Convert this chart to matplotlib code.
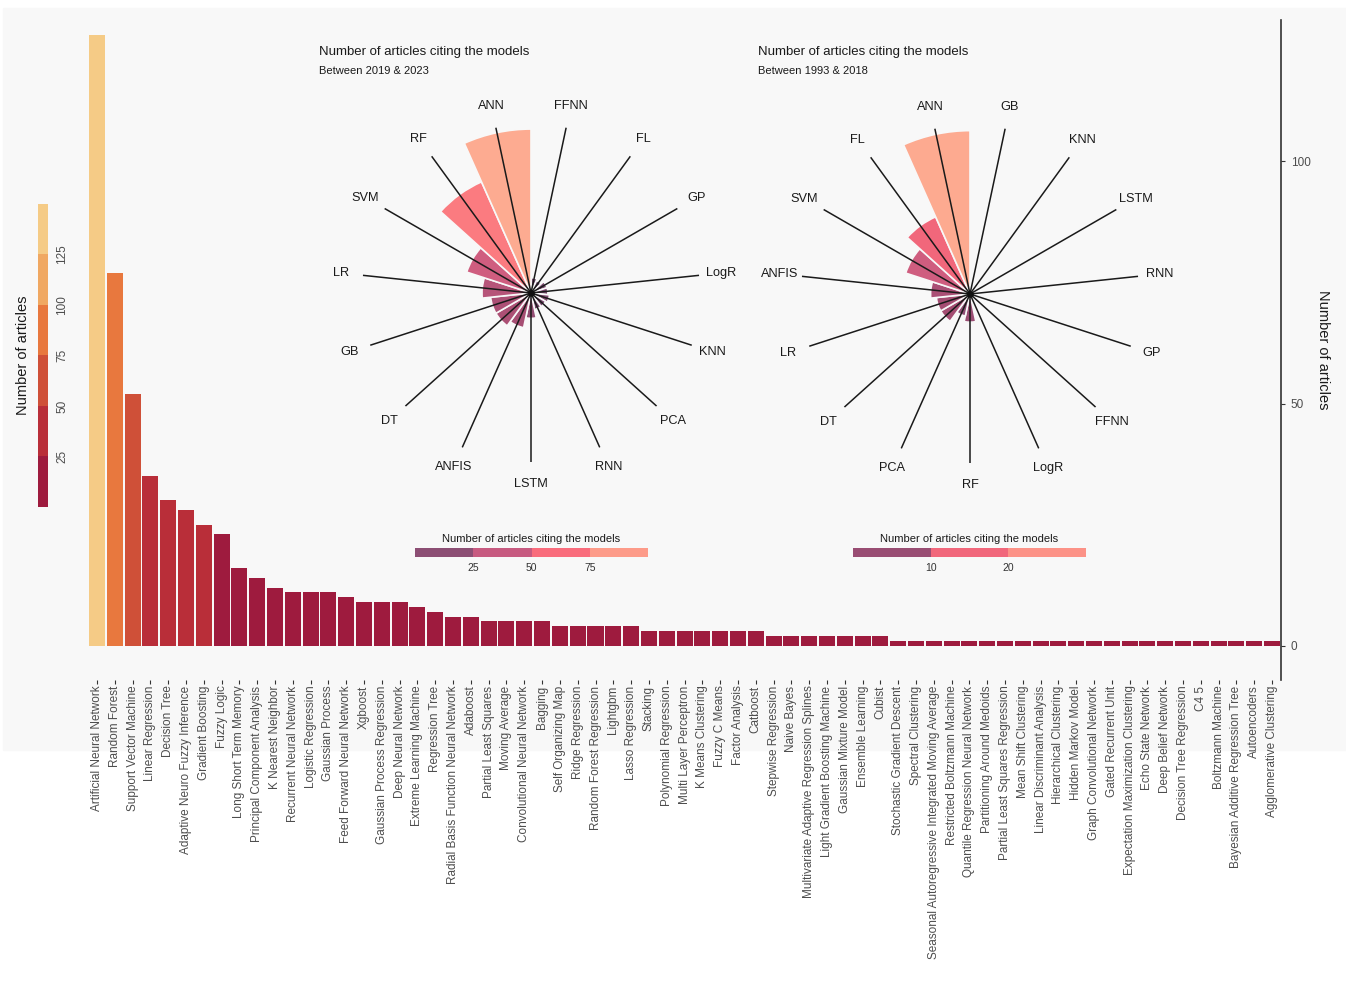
import numpy as np
import matplotlib.pyplot as plt
from matplotlib.colors import LinearSegmentedColormap, ListedColormap, BoundaryNorm
from matplotlib.cm import ScalarMappable
from matplotlib.patches import Rectangle

plt.rcParams['font.family'] = ['Liberation Sans', 'DejaVu Sans']

# article counts per model, all years
models = ['Artificial Neural Network', 'Random Forest', 'Support Vector Machine', 'Linear Regression',
          'Decision Tree', 'Adaptive Neuro Fuzzy Inference', 'Gradient Boosting', 'Fuzzy Logic',
          'Long Short Term Memory', 'Principal Component Analysis', 'K Nearest Neighbor',
          'Recurrent Neural Network', 'Logistic Regression', 'Gaussian Process', 'Feed Forward Neural Network',
          'Xgboost', 'Gaussian Process Regression', 'Deep Neural Network', 'Extreme Learning Machine',
          'Regression Tree', 'Radial Basis Function Neural Network', 'Adaboost', 'Partial Least Squares',
          'Moving Average', 'Convolutional Neural Network', 'Bagging', 'Self Organizing Map', 'Ridge Regression',
          'Random Forest Regression', 'Lightgbm', 'Lasso Regression', 'Stacking', 'Polynomial Regression',
          'Multi Layer Perceptron', 'K Means Clustering', 'Fuzzy C Means', 'Factor Analysis', 'Catboost',
          'Stepwise Regression', 'Naive Bayes', 'Multivariate Adaptive Regression Splines',
          'Light Gradient Boosting Machine', 'Gaussian Mixture Model', 'Ensemble Learning', 'Cubist',
          'Stochastic Gradient Descent', 'Spectral Clustering',
          'Seasonal Autoregressive Integrated Moving Average', 'Restricted Boltzmann Machine',
          'Quantile Regression Neural Network', 'Partitioning Around Medoids',
          'Partial Least Squares Regression', 'Mean Shift Clustering', 'Linear Discriminant Analysis',
          'Hierarchical Clustering', 'Hidden Markov Model', 'Graph Convolutional Network',
          'Gated Recurrent Unit', 'Expectation Maximization Clustering', 'Echo State Network',
          'Deep Belief Network', 'Decision Tree Regression', 'C4 5', 'Boltzmann Machine',
          'Bayesian Additive Regression Tree', 'Autoencoders', 'Agglomerative Clustering']
articles = [126, 77, 52, 35, 30, 28, 25, 23, 16, 14, 12, 11, 11, 11, 10, 9, 9, 9, 8, 7, 6, 6,
            5, 5, 5, 5, 4, 4, 4, 4, 4, 3, 3, 3, 3, 3, 3, 3, 2, 2, 2, 2, 2, 2, 2,
            1, 1, 1, 1, 1, 1, 1, 1, 1, 1, 1, 1, 1, 1, 1, 1, 1, 1, 1, 1, 1, 1]

# top 15 models split by period (clockwise order)
new_labels = ['FFNN', 'FL', 'GP', 'LogR', 'KNN', 'PCA', 'RNN', 'LSTM', 'ANFIS', 'DT', 'GB', 'LR', 'SVM', 'RF', 'ANN']
new_counts = [9, 8, 10, 10, 11, 10, 10, 15, 21, 24, 24, 29, 40, 72, 97]
old_labels = ['GB', 'KNN', 'LSTM', 'RNN', 'GP', 'FFNN', 'LogR', 'RF', 'PCA', 'DT', 'LR', 'ANFIS', 'SVM', 'FL', 'ANN']
old_counts = [1, 1, 1, 1, 1, 1, 1, 5, 4, 6, 6, 7, 12, 15, 29]

bar_bins = [0, 25, 50, 75, 100, 125, 150]
bar_colors = ['#9e1b3e', '#b92e39', '#cf5038', '#e8783e', '#f0a862', '#f5cb86']

polar_cmap = LinearSegmentedColormap.from_list('rose', [
    (0.0, '#2f2a4f'), (0.12, '#8a4e74'), (0.2, '#a44d72'), (0.375, '#c75a80'),
    (0.5, '#f1677b'), (0.65, '#fa6d7c'), (0.875, '#fd9a89'), (1.0, '#fdb093')])

bg = '#f8f8f8'
W, H = 1346, 983
fig = plt.figure(figsize=(W / 100, H / 100), dpi=100)
fig.patches.append(Rectangle((0.002, (H - 750) / H), 0.998, (750 - 8) / H,
                             transform=fig.transFigure, color=bg, zorder=-10))


def px_rect(x0, y0, x1, y1):
    return [x0 / W, 1 - y1 / H, (x1 - x0) / W, (y1 - y0) / H]


# ---- main bar chart
ax = fig.add_axes(px_rect(87, 20, 1281, 680))
ax.set_facecolor('none')
x = np.arange(len(models))
norm = BoundaryNorm(bar_bins, len(bar_colors))
bar_cmap = ListedColormap(bar_colors)
ax.bar(x, articles, width=0.9, color=bar_cmap(norm(articles)), zorder=2)
ax.set_xlim(-0.56, 66.5)
ax.set_ylim(-7.1, 129.2)
for s in ['left', 'top', 'bottom']:
    ax.spines[s].set_visible(False)
ax.spines['right'].set_color('#333333')
ax.spines['right'].set_linewidth(1.2)
ax.yaxis.tick_right()
ax.yaxis.set_label_position('right')
ax.set_yticks([0, 50, 100])
ax.tick_params(axis='y', length=3, color='#333333', labelsize=8.5, labelcolor='#4d4d4d', pad=4)
ax.set_ylabel('Number of articles', rotation=270, fontsize=10.5, labelpad=14, color='#1a1a1a')
ax.set_xticks(x)
ax.set_xticklabels(models, rotation=90, fontsize=8.5, color='#4d4d4d')
ax.tick_params(axis='x', length=3, color='#333333', pad=1)

# left colour legend
cax = fig.add_axes(px_rect(38, 204, 48, 507))
cb = fig.colorbar(ScalarMappable(norm=norm, cmap=bar_cmap), cax=cax, orientation='vertical')
cb.outline.set_visible(False)
cb.set_ticks([25, 50, 75, 100, 125])
cax.minorticks_off()
cax.yaxis.set_ticks_position('right')
cax.tick_params(which='both', length=0, labelsize=8.5, labelcolor='#4d4d4d', pad=6)
for lbl in cax.get_yticklabels():
    lbl.set_rotation(90)
    lbl.set_va('center')
cax.yaxis.set_label_position('left')
cax.set_ylabel('Number of articles', fontsize=10.5, labelpad=6, color='#1a1a1a')


# ---- rose charts
def draw_rose(cx, cy, labels, counts, vmax, bins, title, subtitle, cbar_x):
    R = 169
    pax = fig.add_axes(px_rect(cx - R, cy - R, cx + R, cy + R), projection='polar')
    pax.set_theta_zero_location('N')
    pax.set_theta_direction(-1)
    theta = np.deg2rad(12 + 24 * np.arange(len(labels)))
    counts = np.array(counts)
    pax.bar(theta, counts, width=np.deg2rad(24), color=polar_cmap(counts / vmax),
            edgecolor=bg, linewidth=1.2, zorder=2)
    for t, lab in zip(theta, labels):
        pax.plot([t, t], [0, vmax], color='#1a1a1a', lw=1.1, zorder=3)
        pax.text(t, vmax * 1.13, lab, ha='center', va='center', fontsize=9.2, color='#1a1a1a')
    pax.scatter([0], [0], s=14, color='#111111', zorder=4)
    pax.set_ylim(0, vmax)
    pax.axis('off')

    fig.text((cx - 212) / W, 1 - 52 / H, title, fontsize=9.5, va='center', color='#1a1a1a')
    fig.text((cx - 212) / W, 1 - 71 / H, subtitle, fontsize=8, va='center', color='#1a1a1a')

    step_colors = [polar_cmap((a + b) / 2 / vmax) for a, b in zip(bins[:-1], bins[1:])]
    bn = BoundaryNorm(bins, len(step_colors))
    bax = fig.add_axes(px_rect(cbar_x, 548, cbar_x + 233, 557))
    bcb = fig.colorbar(ScalarMappable(norm=bn, cmap=ListedColormap(step_colors)),
                       cax=bax, orientation='horizontal')
    bcb.outline.set_visible(False)
    bcb.set_ticks(bins[1:-1])
    bax.minorticks_off()
    bax.tick_params(which='both', length=0, labelsize=7.5, labelcolor='#333333', pad=4)
    bax.set_title('Number of articles citing the models', fontsize=8, pad=4, color='#1a1a1a')


draw_rose(531, 293, new_labels, new_counts, 100, [0, 25, 50, 75, 100],
          'Number of articles citing the models', 'Between 2019 & 2023', 415)
draw_rose(970, 294, old_labels, old_counts, 30, [0, 10, 20, 30],
          'Number of articles citing the models', 'Between 1993 & 2018', 853)

fig.savefig('out.png', dpi=100, facecolor='white')
